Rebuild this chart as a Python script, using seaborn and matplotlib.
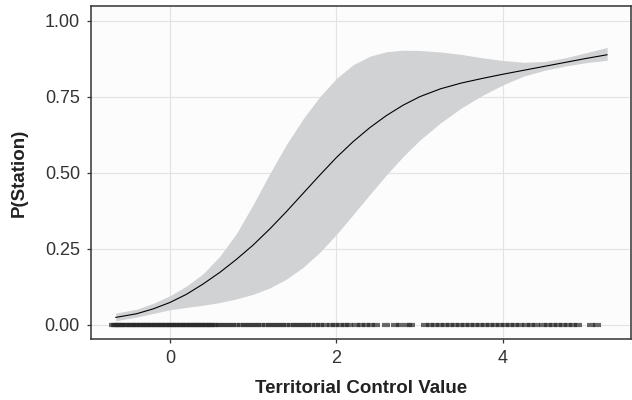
import numpy as np
import pandas as pd
import matplotlib
matplotlib.use("Agg")
import matplotlib.pyplot as plt
import seaborn as sns

# predicted probability curve and its confidence band
tc_value = [-0.65, -0.4, -0.2, 0.0, 0.2, 0.4, 0.6, 0.8, 1.0, 1.2, 1.4, 1.6, 1.8, 2.0,
            2.2, 2.4, 2.6, 2.8, 3.0, 3.25, 3.5, 3.75, 4.0, 4.25, 4.5, 4.75, 5.0, 5.25]
p_fit = [0.024, 0.036, 0.052, 0.073, 0.100, 0.134, 0.172, 0.215, 0.262, 0.315, 0.372, 0.432,
         0.492, 0.550, 0.602, 0.648, 0.688, 0.722, 0.750, 0.776, 0.795, 0.810, 0.824, 0.837,
         0.850, 0.863, 0.876, 0.888]
p_upper = [0.038, 0.051, 0.070, 0.095, 0.127, 0.168, 0.225, 0.300, 0.395, 0.497, 0.593, 0.677,
           0.750, 0.810, 0.855, 0.883, 0.898, 0.903, 0.902, 0.897, 0.889, 0.878, 0.869, 0.863,
           0.866, 0.878, 0.895, 0.912]
p_lower = [0.013, 0.025, 0.037, 0.049, 0.057, 0.064, 0.073, 0.085, 0.100, 0.121, 0.150, 0.189,
           0.238, 0.297, 0.362, 0.428, 0.493, 0.553, 0.607, 0.664, 0.713, 0.754, 0.789, 0.818,
           0.837, 0.851, 0.862, 0.870]

# observed territorial control values (no station), drawn along y = 0
obs_x = [-0.68, -0.66, -0.64, -0.62, -0.6, -0.58, -0.55, -0.53, -0.5, -0.47, -0.45, -0.42,
         -0.4, -0.37, -0.35, -0.32, -0.3, -0.27, -0.25, -0.22, -0.2, -0.17, -0.15, -0.12,
         -0.1, -0.07, -0.05, -0.02, 0.0, 0.03, 0.05, 0.08, 0.1, 0.13, 0.15, 0.18, 0.2, 0.23,
         0.25, 0.28, 0.3, 0.33, 0.35, 0.38, 0.4, 0.43, 0.45, 0.48, 0.5, 0.53, 0.55, 0.6,
         0.65, 0.7, 0.75, 0.8, 0.85, 0.9, 0.95, 1.0, 1.05, 1.1, 1.15, 1.2, 1.25, 1.3, 1.35,
         1.4, 1.45, 1.5, 1.55, 1.6, 1.65, 1.7, 1.75, 1.8, 1.86, 1.93, 1.98, 2.04, 2.1, 2.15,
         2.24, 2.3, 2.36, 2.42, 2.48, 2.6, 2.7, 2.76, 2.86, 2.9, 3.06, 3.12, 3.18, 3.24,
         3.3, 3.36, 3.42, 3.48, 3.54, 3.6, 3.66, 3.72, 3.78, 3.84, 3.9, 3.96, 4.02, 4.08,
         4.14, 4.2, 4.28, 4.34, 4.4, 4.48, 4.54, 4.6, 4.66, 4.72, 4.78, 4.84, 4.9, 5.06, 5.13]
obs_y = [0.0] * len(obs_x)

x_ticks = [0, 2, 4]
y_ticks = [0.0, 0.25, 0.5, 0.75, 1.0]
y_ticklabels = ["0.00", "0.25", "0.50", "0.75", "1.00"]

curve = pd.DataFrame({"x": tc_value, "fit": p_fit, "lo": p_lower, "hi": p_upper})
obs = pd.DataFrame({"x": obs_x, "y": obs_y})

sns.set_theme(style="whitegrid")
plt.rcParams["font.family"] = ["Liberation Sans", "DejaVu Sans"]

fig = plt.figure(figsize=(6.32, 4.0), dpi=100)
ax = fig.add_axes([0.144, 0.1525, 0.854, 0.833])
ax.set_facecolor("#fcfcfc")

ax.fill_between(curve["x"], curve["lo"], curve["hi"], color="#d1d2d4", linewidth=0, zorder=2)
sns.lineplot(data=curve, x="x", y="fit", color="black", linewidth=0.8, ax=ax, zorder=3)
# rug of observations: short horizontal dashes that merge where data are dense
ax.scatter(obs["x"], obs["y"], marker="_", s=40, linewidths=3.0, color="#2a2a2a",
           alpha=0.7, zorder=4)

ax.set_xlim(-0.946, 5.533)
ax.set_ylim(-0.047, 1.049)
ax.set_xticks(x_ticks)
ax.set_yticks(y_ticks)
ax.set_yticklabels(y_ticklabels)

ax.grid(True, color="#e3e3e3", linewidth=0.8)
for side in ax.spines.values():
    side.set_color("#333333")
    side.set_linewidth(1.1)
ax.tick_params(axis="both", which="both", direction="out", length=3, width=0.9,
               color="#333333", labelsize=13, labelcolor="#333333", pad=5)
ax.tick_params(bottom=True, left=True)

ax.set_xlabel("Territorial Control Value", fontsize=13.5, fontweight="bold",
              color="#222222", labelpad=9)
ax.set_ylabel("P(Station)", fontsize=13.5, fontweight="bold", color="#222222", labelpad=12)

fig.savefig("out.png", dpi=100)
